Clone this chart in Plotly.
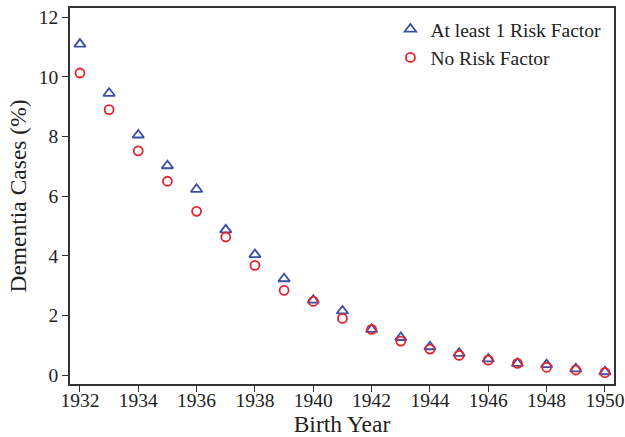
import plotly.graph_objects as go

years = list(range(1932, 1951))
risk_factor = [11.10, 9.45, 8.05, 7.02, 6.23, 4.87, 4.04, 3.23, 2.51, 2.15,
               1.53, 1.26, 0.95, 0.73, 0.54, 0.39, 0.35, 0.21, 0.11]
no_risk_factor = [10.13, 8.90, 7.52, 6.50, 5.49, 4.63, 3.68, 2.84, 2.47, 1.90,
                  1.53, 1.14, 0.87, 0.66, 0.50, 0.39, 0.26, 0.17, 0.08]
x_ticks = list(range(1932, 1951, 2))
y_ticks = [0, 2, 4, 6, 8, 10, 12]

font = "Liberation Serif, Times New Roman, serif"

fig = go.Figure()

fig.add_trace(go.Scatter(
    x=years, y=risk_factor, mode="markers", name="At least 1 Risk Factor",
    marker=dict(symbol="triangle-up-open", size=10, color="#3a4fa8",
                line=dict(width=1.8, color="#3a4fa8"))
))
fig.add_trace(go.Scatter(
    x=years, y=no_risk_factor, mode="markers", name="No Risk Factor",
    marker=dict(symbol="circle-open", size=9, color="#e8222e",
                line=dict(width=1.8, color="#e8222e"))
))

axis_style = dict(
    showgrid=False, zeroline=False, showline=True, linecolor="#333333",
    linewidth=1.5, mirror=True, ticks="outside", ticklen=6, tickwidth=1.2,
    tickcolor="#333333", tickfont=dict(family=font, size=19.5, color="#222222"),
    automargin=False,
)

fig.update_layout(
    width=625, height=437,
    margin=dict(l=70, r=11, t=8, b=53),
    paper_bgcolor="white", plot_bgcolor="white",
    font=dict(family=font, color="#222222"),
    showlegend=True,
    legend=dict(x=0.589, y=0.995, xanchor="left", yanchor="top",
                font=dict(family=font, size=19.5), bgcolor="rgba(0,0,0,0)",
                itemwidth=30, tracegroupgap=0),
    xaxis=dict(axis_style, range=[1931.66, 1950.31], tickvals=x_ticks,
               ticklabelstandoff=-8,
               title=dict(text="Birth Year", font=dict(family=font, size=23.5), standoff=2)),
    yaxis=dict(axis_style, range=[-0.30, 12.31], tickvals=y_ticks,
               title=dict(text="Dementia Cases (%)", font=dict(family=font, size=23.5), standoff=6)),
)

# drop the default 8px page margin so the figure fills the window
fig.write_html("out.html", config={"displayModeBar": False},
               post_script="document.body.style.margin = '0';")
